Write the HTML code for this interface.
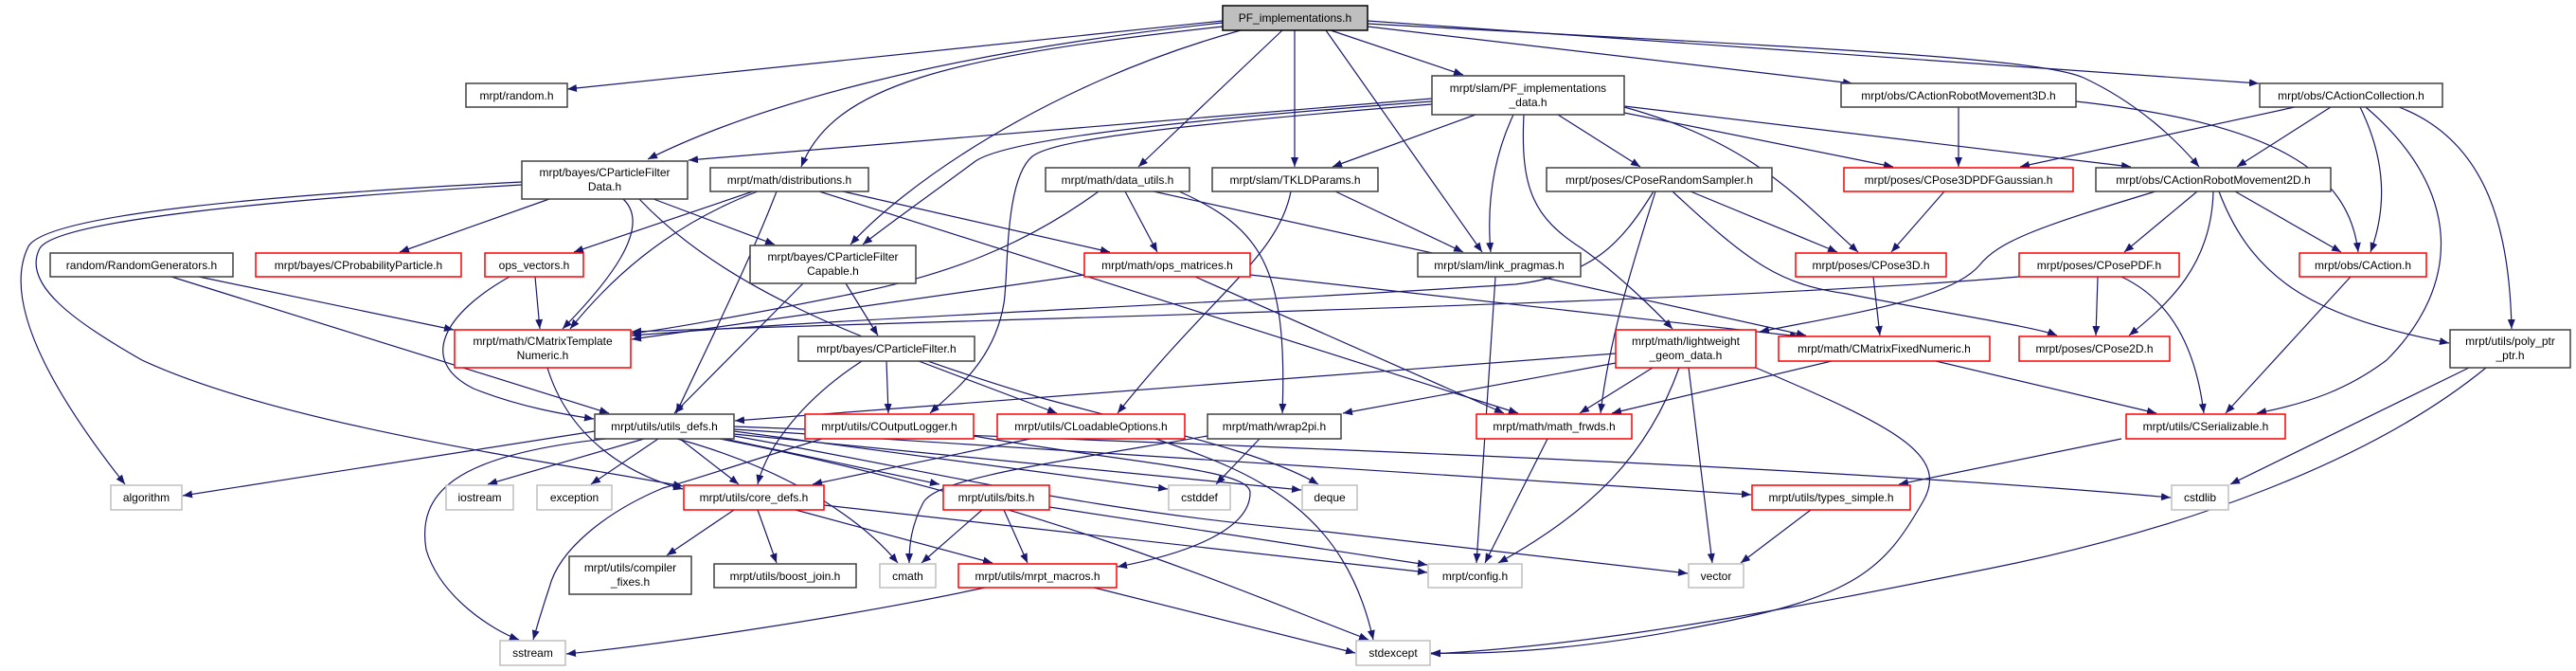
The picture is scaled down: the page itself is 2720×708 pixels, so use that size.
<!DOCTYPE html>
<html><head><meta charset="utf-8"><style>
html,body{margin:0;padding:0;background:#fff;}
svg{display:block;}
text{font-family:"Liberation Sans",sans-serif;font-size:12px;fill:#000;}
.e{fill:none;stroke:#191970;stroke-width:1.2;marker-end:url(#a);}
.k{fill:#fff;stroke:#404040;stroke-width:1.5;}
.r{fill:#fff;stroke:#ff0000;stroke-width:1.5;}
.g{fill:#fff;stroke:#bfbfbf;stroke-width:1.5;}
.p{fill:#bfbfbf;stroke:#000;stroke-width:1.5;}
</style></head><body>
<svg width="2720" height="708" viewBox="0 0 2720 708" xmlns="http://www.w3.org/2000/svg">
<defs><marker id="a" markerUnits="userSpaceOnUse" markerWidth="11" markerHeight="8" refX="10" refY="4" orient="auto"><path d="M0,0 L10,4 L0,8 z" fill="#191970"/></marker></defs>
<g>
<!-- PF edges -->
<path class="e" d="M1291,22 L599,94"/>
<path class="e" d="M1291,24 C1000,55 800,110 684,168"/>
<path class="e" d="M1291,28 C1000,60 880,90 846,176"/>
<path class="e" d="M1310,32 C1100,90 950,200 898,258"/>
<path class="e" d="M1354,32 L1202,176"/>
<path class="e" d="M1367,32 L1367,176"/>
<path class="e" d="M1400,32 L1565,266"/>
<path class="e" d="M1405,32 L1545,79"/>
<path class="e" d="M1444,28 L1956,88"/>
<path class="e" d="M1444,22 L2385,88"/>
<path class="e" d="M1444,25 C1900,50 2150,60 2200,82 C2260,110 2300,150 2322,176"/>
<!-- PFdata -->
<path class="e" d="M1512,104 L727,169"/>
<path class="e" d="M1512,107 C1200,130 1060,150 1030,170 C990,200 940,235 911,258"/>
<path class="e" d="M1512,110 C1200,135 1110,150 1090,165 C1060,190 1065,290 1060,320 C1050,380 1010,410 982,436"/>
<path class="e" d="M1558,121 L1407,176"/>
<path class="e" d="M1598,121 C1575,170 1570,220 1574,266"/>
<path class="e" d="M1609,121 C1605,200 1620,230 1670,262 C1710,290 1750,330 1766,347"/>
<path class="e" d="M1645,121 L1732,176"/>
<path class="e" d="M1715,113 C1850,150 1900,210 1962,266"/>
<path class="e" d="M1715,119 L1999,176"/>
<path class="e" d="M1715,112 L2250,176"/>
<!-- CARM3D -->
<path class="e" d="M2068,113 L2068,176"/>
<path class="e" d="M2192,107 C2400,130 2480,180 2490,266"/>
<!-- CAColl -->
<path class="e" d="M2423,113 L2133,176"/>
<path class="e" d="M2461,113 L2362,176"/>
<path class="e" d="M2492,113 C2520,170 2520,220 2503,266"/>
<path class="e" d="M2498,113 C2600,200 2600,300 2520,380 C2480,410 2440,425 2383,436"/>
<path class="e" d="M2533,113 C2630,150 2650,250 2652,347"/>
<!-- CARM2D -->
<path class="e" d="M2276,202 C2150,240 2110,255 2090,280 C2060,315 1960,330 1858,350"/>
<path class="e" d="M2320,202 L2243,266"/>
<path class="e" d="M2337,202 C2335,280 2290,320 2248,354"/>
<path class="e" d="M2360,202 L2472,266"/>
<path class="e" d="M2343,202 C2380,300 2450,335 2586,362"/>
<!-- CPFData -->
<path class="e" d="M551,192 C300,205 50,225 30,260 C0,320 60,420 132,511"/>
<path class="e" d="M551,195 C300,210 60,232 42,262 C22,300 80,340 150,380 C300,450 600,490 721,513"/>
<path class="e" d="M690,210 L818,258"/>
<path class="e" d="M580,210 L422,266"/>
<path class="e" d="M658,210 C690,240 640,300 594,347"/>
<path class="e" d="M675,210 C760,300 900,360 1100,420 C1250,460 1340,480 1392,511"/>
<!-- distributions -->
<path class="e" d="M795,202 L606,266"/>
<path class="e" d="M800,202 C700,240 640,300 602,347"/>
<path class="e" d="M820,202 C790,280 740,380 714,436"/>
<path class="e" d="M865,202 L1603,436"/>
<path class="e" d="M890,202 L1172,266"/>
<!-- data_utils -->
<path class="e" d="M1188,202 L1222,266"/>
<path class="e" d="M1160,202 C1080,260 1000,290 900,310 C800,330 720,345 667,352"/>
<path class="e" d="M1218,202 L1907,354"/>
<path class="e" d="M1245,202 C1330,240 1360,280 1354,436"/>
<!-- TKLD -->
<path class="e" d="M1410,202 L1545,266"/>
<path class="e" d="M1363,202 C1350,270 1280,310 1180,436"/>
<!-- ops_matrices -->
<path class="e" d="M1145,290 L667,358"/>
<path class="e" d="M1320,290 L1900,355"/>
<path class="e" d="M1262,292 L1588,436"/>
<!-- CPRS -->
<path class="e" d="M1785,202 L1940,266"/>
<path class="e" d="M1766,202 C1850,280 1880,300 1950,310 C2050,330 2150,345 2172,354"/>
<path class="e" d="M1748,202 C1730,260 1700,350 1690,436"/>
<path class="e" d="M1746,202 C1710,260 1680,290 1600,300 C1300,320 900,335 667,354"/>
<path class="e" d="M2053,202 L1997,266"/>
<path class="e" d="M1978,292 L1985,354"/>
<path class="e" d="M2132,292 C1800,320 1100,335 667,350"/>
<path class="e" d="M2215,292 L2213,354"/>
<path class="e" d="M2240,292 C2300,320 2320,380 2327,436"/>
<path class="e" d="M2482,292 L2350,436"/>
<path class="e" d="M1934,381 L1702,436"/>
<path class="e" d="M2044,381 L2277,436"/>
<!-- lightweight -->
<path class="e" d="M1745,388 L1668,436"/>
<path class="e" d="M1706,373 L776,444"/>
<path class="e" d="M1706,383 L1418,436"/>
<path class="e" d="M1773,388 C1740,480 1680,540 1582,594"/>
<path class="e" d="M1783,388 L1808,594"/>
<path class="e" d="M1854,388 C2000,450 2060,480 2030,530 C1990,600 1960,630 1800,660 C1650,690 1550,690 1511,689"/>
<path class="e" d="M2240,463 L2005,511"/>
<path class="e" d="M1912,538 L1838,594"/>
<path class="e" d="M2607,388 L2355,511"/>
<path class="e" d="M2625,388 C2500,490 2300,560 2100,600 C1900,640 1700,680 1511,690"/>
<path class="e" d="M1579,292 L1559,594"/>
<path class="e" d="M1634,463 L1568,594"/>
<!-- CParticleFilter / Capable -->
<path class="e" d="M910,381 C850,420 810,470 800,511"/>
<path class="e" d="M936,381 L938,436"/>
<path class="e" d="M970,381 L1116,436"/>
<path class="e" d="M848,299 L712,436"/>
<path class="e" d="M893,299 L927,354"/>
<!-- misc -->
<path class="e" d="M578,388 C600,460 660,500 721,516"/>
<path class="e" d="M210,292 L479,348"/>
<path class="e" d="M181,292 L643,436"/>
<path class="e" d="M565,292 L570,347"/>
<path class="e" d="M538,292 C470,330 440,380 500,410 C550,430 600,438 627,442"/>
<path class="e" d="M868,463 C780,490 720,510 700,515 C640,540 590,580 580,620 C570,650 565,668 563,675"/>
<path class="e" d="M1088,463 L858,511"/>
<path class="e" d="M1220,463 C1330,500 1420,540 1450,675"/>
<path class="e" d="M1028,460 C1200,490 1320,495 1320,520 C1320,560 1250,585 1180,598"/>
<!-- utils_defs -->
<path class="e" d="M628,455 L193,523"/>
<path class="e" d="M680,463 L515,511"/>
<path class="e" d="M695,463 L624,511"/>
<path class="e" d="M640,463 C480,480 440,520 450,580 C465,630 520,665 548,675"/>
<path class="e" d="M718,463 L780,511"/>
<path class="e" d="M765,463 L992,511"/>
<path class="e" d="M715,463 C850,500 920,560 948,594"/>
<path class="e" d="M775,455 L1233,516"/>
<path class="e" d="M775,458 L1374,517"/>
<path class="e" d="M775,453 C1200,480 1600,505 1849,522"/>
<path class="e" d="M775,450 C1300,470 1900,490 2292,525"/>
<path class="e" d="M760,463 C1100,530 1300,620 1445,675"/>
<path class="e" d="M775,460 C1000,500 1150,540 1400,561 L1782,605"/>
<!-- core_defs / bits / macros -->
<path class="e" d="M870,533 L1507,604"/>
<path class="e" d="M1108,535 L1507,596"/>
<path class="e" d="M840,538 L1048,594"/>
<path class="e" d="M775,538 L704,586"/>
<path class="e" d="M800,538 L820,594"/>
<path class="e" d="M1037,538 L973,594"/>
<path class="e" d="M1060,538 L1085,594"/>
<path class="e" d="M1040,620 C900,650 700,680 598,690"/>
<path class="e" d="M1155,620 L1431,689"/>
<path class="e" d="M1330,463 L1284,511"/>
<path class="e" d="M1275,460 C1100,490 990,505 975,530 C962,555 960,575 960,594"/>
</g>
<g>
<rect class="p" x="1291" y="6" width="153" height="26"/><text x="1367.5" y="23" text-anchor="middle">PF_implementations.h</text>
<rect class="k" x="492" y="88" width="107" height="25"/><text x="545.5" y="105" text-anchor="middle">mrpt/random.h</text>
<rect class="k" x="1512" y="80" width="203" height="41"/><text x="1613.5" y="97" text-anchor="middle">mrpt/slam/PF_implementations</text><text x="1613.5" y="112" text-anchor="middle">_data.h</text>
<rect class="k" x="1944" y="88" width="248" height="25"/><text x="2068" y="105" text-anchor="middle">mrpt/obs/CActionRobotMovement3D.h</text>
<rect class="k" x="2386" y="88" width="193" height="25"/><text x="2482.5" y="105" text-anchor="middle">mrpt/obs/CActionCollection.h</text>
<rect class="k" x="551" y="170" width="175" height="40"/><text x="638.5" y="186" text-anchor="middle">mrpt/bayes/CParticleFilter</text><text x="638.5" y="201" text-anchor="middle">Data.h</text>
<rect class="k" x="750" y="177" width="167" height="25"/><text x="833.5" y="194" text-anchor="middle">mrpt/math/distributions.h</text>
<rect class="k" x="1104" y="177" width="152" height="25"/><text x="1180" y="194" text-anchor="middle">mrpt/math/data_utils.h</text>
<rect class="k" x="1280" y="177" width="175" height="25"/><text x="1367.5" y="194" text-anchor="middle">mrpt/slam/TKLDParams.h</text>
<rect class="k" x="1633" y="177" width="238" height="25"/><text x="1752" y="194" text-anchor="middle">mrpt/poses/CPoseRandomSampler.h</text>
<rect class="r" x="1947" y="177" width="242" height="25"/><text x="2068" y="194" text-anchor="middle">mrpt/poses/CPose3DPDFGaussian.h</text>
<rect class="k" x="2213" y="177" width="248" height="25"/><text x="2337" y="194" text-anchor="middle">mrpt/obs/CActionRobotMovement2D.h</text>
<rect class="k" x="53" y="267" width="193" height="25"/><text x="149.5" y="284" text-anchor="middle">random/RandomGenerators.h</text>
<rect class="r" x="270" y="267" width="217" height="25"/><text x="378.5" y="284" text-anchor="middle">mrpt/bayes/CProbabilityParticle.h</text>
<rect class="r" x="512" y="267" width="104" height="25"/><text x="564" y="284" text-anchor="middle">ops_vectors.h</text>
<rect class="k" x="792" y="259" width="175" height="40"/><text x="879.5" y="275" text-anchor="middle">mrpt/bayes/CParticleFilter</text><text x="879.5" y="290" text-anchor="middle">Capable.h</text>
<rect class="r" x="1145" y="267" width="175" height="25"/><text x="1232.5" y="284" text-anchor="middle">mrpt/math/ops_matrices.h</text>
<rect class="k" x="1497" y="267" width="172" height="25"/><text x="1583" y="284" text-anchor="middle">mrpt/slam/link_pragmas.h</text>
<rect class="r" x="1896" y="267" width="159" height="25"/><text x="1975.5" y="284" text-anchor="middle">mrpt/poses/CPose3D.h</text>
<rect class="r" x="2132" y="267" width="169" height="25"/><text x="2216.5" y="284" text-anchor="middle">mrpt/poses/CPosePDF.h</text>
<rect class="r" x="2428" y="267" width="134" height="25"/><text x="2495" y="284" text-anchor="middle">mrpt/obs/CAction.h</text>
<rect class="r" x="480" y="348" width="186" height="40"/><text x="573" y="364" text-anchor="middle">mrpt/math/CMatrixTemplate</text><text x="573" y="379" text-anchor="middle">Numeric.h</text>
<rect class="k" x="843" y="355" width="186" height="26"/><text x="936" y="372" text-anchor="middle">mrpt/bayes/CParticleFilter.h</text>
<rect class="r" x="1706" y="348" width="148" height="40"/><text x="1780" y="364" text-anchor="middle">mrpt/math/lightweight</text><text x="1780" y="379" text-anchor="middle">_geom_data.h</text>
<rect class="r" x="1878" y="355" width="223" height="26"/><text x="1989.5" y="372" text-anchor="middle">mrpt/math/CMatrixFixedNumeric.h</text>
<rect class="r" x="2132" y="355" width="159" height="26"/><text x="2211.5" y="372" text-anchor="middle">mrpt/poses/CPose2D.h</text>
<rect class="k" x="2587" y="348" width="127" height="40"/><text x="2650.5" y="364" text-anchor="middle">mrpt/utils/poly_ptr</text><text x="2650.5" y="379" text-anchor="middle">_ptr.h</text>
<rect class="k" x="628" y="437" width="147" height="26"/><text x="701.5" y="454" text-anchor="middle">mrpt/utils/utils_defs.h</text>
<rect class="r" x="850" y="437" width="178" height="26"/><text x="939" y="454" text-anchor="middle">mrpt/utils/COutputLogger.h</text>
<rect class="r" x="1053" y="437" width="198" height="26"/><text x="1152" y="454" text-anchor="middle">mrpt/utils/CLoadableOptions.h</text>
<rect class="k" x="1275" y="437" width="141" height="26"/><text x="1345.5" y="454" text-anchor="middle">mrpt/math/wrap2pi.h</text>
<rect class="r" x="1559" y="437" width="164" height="26"/><text x="1641" y="454" text-anchor="middle">mrpt/math/math_frwds.h</text>
<rect class="r" x="2245" y="437" width="168" height="26"/><text x="2329" y="454" text-anchor="middle">mrpt/utils/CSerializable.h</text>
<rect class="g" x="117" y="512" width="75" height="26"/><text x="154.5" y="529" text-anchor="middle">algorithm</text>
<rect class="g" x="471" y="512" width="71" height="26"/><text x="506.5" y="529" text-anchor="middle">iostream</text>
<rect class="g" x="567" y="512" width="79" height="26"/><text x="606.5" y="529" text-anchor="middle">exception</text>
<rect class="r" x="722" y="512" width="148" height="26"/><text x="796" y="529" text-anchor="middle">mrpt/utils/core_defs.h</text>
<rect class="r" x="996" y="512" width="112" height="26"/><text x="1052" y="529" text-anchor="middle">mrpt/utils/bits.h</text>
<rect class="g" x="1234" y="512" width="65" height="26"/><text x="1266.5" y="529" text-anchor="middle">cstddef</text>
<rect class="g" x="1375" y="512" width="58" height="26"/><text x="1404" y="529" text-anchor="middle">deque</text>
<rect class="r" x="1850" y="512" width="167" height="26"/><text x="1933.5" y="529" text-anchor="middle">mrpt/utils/types_simple.h</text>
<rect class="g" x="2293" y="512" width="60" height="26"/><text x="2323" y="529" text-anchor="middle">cstdlib</text>
<rect class="k" x="601" y="587" width="129" height="40"/><text x="665.5" y="603" text-anchor="middle">mrpt/utils/compiler</text><text x="665.5" y="618" text-anchor="middle">_fixes.h</text>
<rect class="k" x="754" y="595" width="150" height="25"/><text x="829" y="612" text-anchor="middle">mrpt/utils/boost_join.h</text>
<rect class="g" x="929" y="595" width="59" height="25"/><text x="958.5" y="612" text-anchor="middle">cmath</text>
<rect class="r" x="1012" y="595" width="167" height="25"/><text x="1095.5" y="612" text-anchor="middle">mrpt/utils/mrpt_macros.h</text>
<rect class="g" x="1508" y="595" width="99" height="25"/><text x="1557.5" y="612" text-anchor="middle">mrpt/config.h</text>
<rect class="g" x="1783" y="595" width="58" height="25"/><text x="1812" y="612" text-anchor="middle">vector</text>
<rect class="g" x="528" y="676" width="69" height="26"/><text x="562.5" y="693" text-anchor="middle">sstream</text>
<rect class="g" x="1432" y="676" width="78" height="26"/><text x="1471" y="693" text-anchor="middle">stdexcept</text>
</g>
</svg>
</body></html>
